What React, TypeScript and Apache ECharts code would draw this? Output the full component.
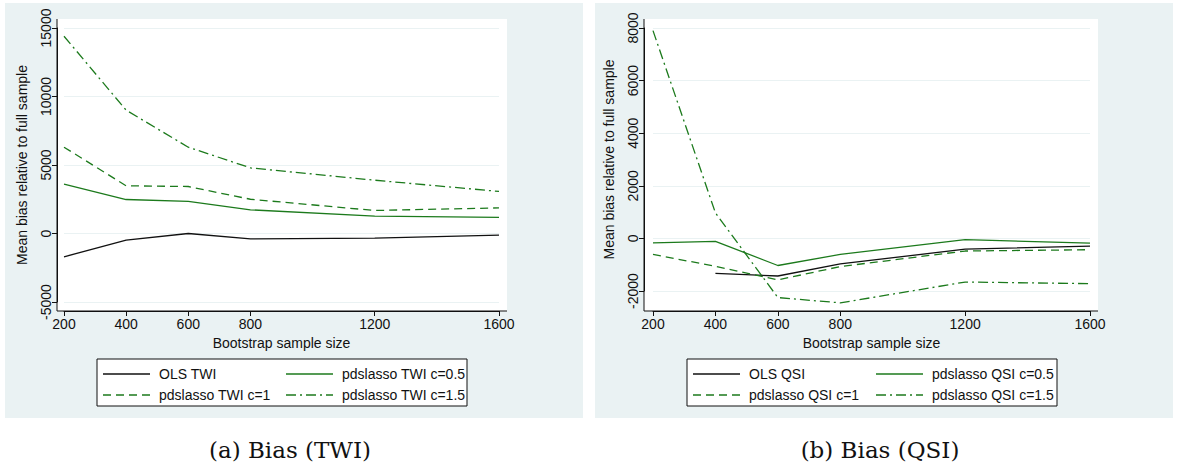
import React from "react";
import * as echarts from "echarts";

const sizes = [200, 400, 600, 800, 1200, 1600];
const xTicks = [200, 400, 600, 800, 1200, 1600];

const twiOls = [-1700, -490, 0, -390, -340, -120];
const twiC05 = [3600, 2480, 2340, 1730, 1270, 1170];
const twiC1 = [6300, 3480, 3430, 2500, 1680, 1870];
const twiC15 = [14400, 9000, 6300, 4790, 3890, 3070];

const qsiOls = [null, -1330, -1430, -970, -410, -290];
const qsiC05 = [-170, -110, -1030, -610, -50, -180];
const qsiC1 = [-610, -1060, -1580, -1070, -480, -430];
const qsiC15 = [7900, 970, -2250, -2450, -1660, -1720];

const twiNames = ["OLS TWI", "pdslasso TWI c=0.5", "pdslasso TWI c=1", "pdslasso TWI c=1.5"];
const qsiNames = ["OLS QSI", "pdslasso QSI c=0.5", "pdslasso QSI c=1", "pdslasso QSI c=1.5"];

const GREEN = "#1c7a1c";
const BG = "#eaf2f3";
const FONT = "'Liberation Sans', Arial, sans-serif";
const styles = [
  { color: "#111", type: "solid" as any },
  { color: GREEN, type: "solid" as any },
  { color: GREEN, type: [8, 5] as any },
  { color: GREEN, type: [10, 4, 2, 4] as any },
];

function pairs(ys: (number | null)[]) {
  return sizes.map((x, i) => [x, ys[i]]);
}

export default function App() {
  const ref = React.useRef<HTMLDivElement>(null);

  React.useEffect(() => {
    if (!ref.current) return;
    const c = echarts.init(ref.current, null, { renderer: "svg" });

    const panel = (ox: number, px0: number, px1: number, names: string[], caption: string) => {
      const els: any[] = [
        { type: "rect", shape: { x: ox + 5, y: 3, width: 578, height: 415 }, style: { fill: BG }, z: -10 },
        { type: "rect", shape: { x: px0, y: 19, width: px1 - px0, height: 292 }, style: { fill: "#fff" }, z: -9 },
        { type: "line", shape: { x1: px0, y1: 19, x2: px0, y2: 311 }, style: { stroke: "#111", lineWidth: 1 }, z: 5 },
        { type: "line", shape: { x1: px0, y1: 311, x2: px1, y2: 311 }, style: { stroke: "#111", lineWidth: 1 }, z: 5 },
        { type: "rect", shape: { x: ox + 97, y: 359, width: 370, height: 47 }, style: { fill: "#fff", stroke: "#111", lineWidth: 1 } },
        {
          type: "text", x: ox + 290, y: 450,
          style: { text: caption, font: "23px 'DejaVu Serif', serif", fill: "#111", textAlign: "center", textVerticalAlign: "middle" },
        },
      ];
      const pos = [[103, 374], [286, 374], [103, 395], [286, 395]];
      names.forEach((n, i) => {
        const [lx, ly] = pos[i];
        els.push({
          type: "line", shape: { x1: ox + lx, y1: ly, x2: ox + lx + 47, y2: ly },
          style: { stroke: styles[i].color, lineWidth: 1.3, lineDash: Array.isArray(styles[i].type) ? styles[i].type : null },
        });
        els.push({
          type: "text", x: ox + lx + 56, y: ly,
          style: { text: n, font: `14px ${FONT}`, fill: "#111", textVerticalAlign: "middle" },
        });
      });
      return els;
    };

    const yAxisBase = (min: number, max: number, interval: number, gridIndex: number, offset: number) => ({
      type: "value", gridIndex, min, max, interval, offset,
      name: "Mean bias relative to full sample", nameLocation: "middle", nameGap: 28,
      nameTextStyle: { fontSize: 14, color: "#111", fontFamily: FONT },
      axisLine: { show: true, onZero: false, lineStyle: { color: "#111" } },
      axisTick: { show: true, length: 5, lineStyle: { color: "#111" } },
      axisLabel: { rotate: 90, fontSize: 14, color: "#111", fontFamily: FONT, margin: 4, formatter: (v: number) => String(v) },
      splitLine: { show: true, lineStyle: { color: BG, width: 1 } },
    });
    const xAxisBase = (gridIndex: number, offset: number) => ({
      type: "value", gridIndex, min: 200, max: 1600, offset,
      name: "Bootstrap sample size", nameLocation: "middle", nameGap: 24,
      nameTextStyle: { fontSize: 14, color: "#111", fontFamily: FONT },
      axisLine: { show: true, onZero: false, lineStyle: { color: "#111" } },
      axisTick: { show: true, length: 5, lineStyle: { color: "#111" }, customValues: xTicks },
      axisLabel: { fontSize: 14, color: "#111", fontFamily: FONT, margin: 6, customValues: xTicks, formatter: (v: number) => String(v) },
      splitLine: { show: false },
    });

    const mk = (name: string, data: any[], i: number, idx: number) => ({
      name, type: "line", xAxisIndex: idx, yAxisIndex: idx, data, showSymbol: false, clip: false,
      lineStyle: { color: styles[i].color, type: styles[i].type, width: 1.3 },
      connectNulls: false,
    });

    c.setOption({
      animation: false,
      grid: [
        { left: 64, top: 28, width: 435, height: 274 },
        { left: 653, top: 28, width: 437, height: 263 },
      ],
      xAxis: [xAxisBase(0, 9), xAxisBase(1, 20)],
      yAxis: [yAxisBase(-5000, 15000, 5000, 0, 7), yAxisBase(-2000, 8000, 2000, 1, 9)],
      series: [
        mk(twiNames[0], pairs(twiOls), 0, 0),
        mk(twiNames[1], pairs(twiC05), 1, 0),
        mk(twiNames[2], pairs(twiC1), 2, 0),
        mk(twiNames[3], pairs(twiC15), 3, 0),
        mk(qsiNames[0], pairs(qsiOls), 0, 1),
        mk(qsiNames[1], pairs(qsiC05), 1, 1),
        mk(qsiNames[2], pairs(qsiC1), 2, 1),
        mk(qsiNames[3], pairs(qsiC15), 3, 1),
      ],
      graphic: [...panel(0, 57, 507, twiNames, "(a) Bias (TWI)"), ...panel(590, 644, 1098, qsiNames, "(b) Bias (QSI)")],
    });
    return () => c.dispose();
  }, []);

  return <div ref={ref} style={{ position: "absolute", left: 0, top: 0, width: 1177, height: 473, background: "#fff" }} />;
}
